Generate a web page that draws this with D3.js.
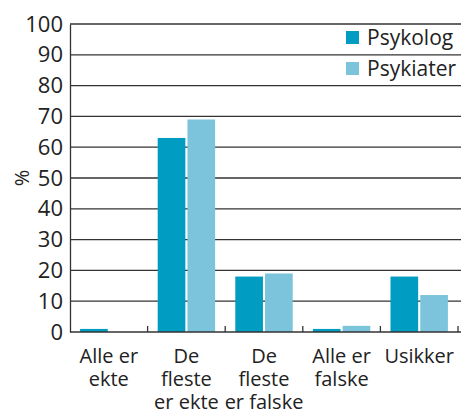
<!DOCTYPE html>
<html>
<head>
<meta charset="utf-8">
<script src="https://cdnjs.cloudflare.com/ajax/libs/d3/7.8.5/d3.min.js"></script>
<style>
body { margin: 0; background: #fff; }
text { font-family: "Open Sans", "DejaVu Sans", sans-serif; fill: #222; }
</style>
</head>
<body>
<svg></svg>
<script>
let categories = [['Alle er', 'ekte'], ['De', 'fleste', 'er ekte'], ['De', 'fleste', 'er falske'], ['Alle er', 'falske'], ['Usikker']]
let series = ['Psykolog', 'Psykiater']
let psykolog = [1, 63, 18, 1, 18]
let psykiater = [0, 69, 19, 2, 12]
let yTicks = [0, 10, 20, 30, 40, 50, 60, 70, 80, 90, 100]
let colors = ['#009cc1', '#7cc4dc']

let width = 465
let height = 412
let plotLeft = 70, plotRight = 458, plotTop = 24, plotBottom = 332

let svg = d3.select('svg').attr('width', width).attr('height', height)

let xscale = d3.scaleBand()
    .domain(d3.range(categories.length))
    .range([plotLeft, plotRight])
    .paddingInner(0.26)
    .paddingOuter(0.13)

let sub = d3.scaleBand()
    .domain(series)
    .range([0, xscale.bandwidth()])
    .paddingInner(0.07)

let yscale = d3.scaleLinear().domain([0, 100]).range([plotBottom, plotTop])

// gridlines
svg.append('g')
    .selectAll('line')
    .data(yTicks.filter(d => d > 0))
    .enter()
    .append('line')
    .attr('x1', plotLeft).attr('x2', 461)
    .attr('y1', d => yscale(d)).attr('y2', d => yscale(d))
    .attr('stroke', '#333').attr('stroke-width', 1.3)

// y axis
let yAxis = d3.axisLeft(yscale).tickValues(yTicks).tickSize(0).tickPadding(7)
let ya = svg.append('g').attr('transform', 'translate(' + plotLeft + ',0)').call(yAxis)
ya.select('.domain').attr('stroke', '#333').attr('stroke-width', 1.3)
ya.selectAll('text').style('font-size', '22px').attr('fill', '#222')
    .style('font-family', '"Open Sans", "DejaVu Sans", sans-serif')

// bars
let data = categories.map((c, i) => ({ i: i, vals: [psykolog[i], psykiater[i]] }))
let groups = svg.selectAll('.grp')
    .data(data)
    .enter()
    .append('g')
    .attr('transform', d => 'translate(' + xscale(d.i) + ',0)')
groups.selectAll('rect')
    .data(d => d.vals.map((v, j) => ({ s: series[j], v: v, j: j })))
    .enter()
    .append('rect')
    .attr('x', d => sub(d.s))
    .attr('width', sub.bandwidth())
    .attr('y', d => yscale(d.v))
    .attr('height', d => plotBottom - yscale(d.v))
    .attr('fill', d => colors[d.j])

// x axis baseline with ticks pointing up
let step = xscale.step()
let tickXs = d3.range(1, categories.length + 1).map(k => xscale(k - 1) + xscale.bandwidth() + step * xscale.paddingInner() / 2)
svg.append('line')
    .attr('x1', plotLeft).attr('x2', plotRight + 3)
    .attr('y1', plotBottom).attr('y2', plotBottom)
    .attr('stroke', '#333').attr('stroke-width', 1.5)
svg.selectAll('.xt')
    .data(tickXs)
    .enter()
    .append('line')
    .attr('x1', d => d).attr('x2', d => d)
    .attr('y1', plotBottom).attr('y2', plotBottom - 6)
    .attr('stroke', '#333').attr('stroke-width', 1.3)

// category labels
svg.selectAll('.cat')
    .data(categories)
    .enter()
    .append('text')
    .attr('text-anchor', 'middle')
    .style('font-size', '20px')
    .attr('transform', (d, i) => 'translate(' + (xscale(i) + xscale.bandwidth() / 2) + ',363)')
    .selectAll('tspan')
    .data(d => d)
    .enter()
    .append('tspan')
    .attr('x', 0)
    .attr('y', (d, k) => k * 23)
    .text(d => d)

// y label
svg.append('text')
    .attr('transform', 'translate(29,178) rotate(-90)')
    .attr('text-anchor', 'middle')
    .style('font-size', '20px')
    .text('%')

// legend
let legend = svg.selectAll('.leg')
    .data(series)
    .enter()
    .append('g')
    .attr('transform', (d, i) => 'translate(346,' + (31 + i * 31) + ')')
legend.append('rect').attr('width', 13).attr('height', 13).attr('fill', (d, i) => colors[i])
legend.append('text').attr('x', 21).attr('y', 14).style('font-size', '21px').text(d => d)
</script>
</body>
</html>
